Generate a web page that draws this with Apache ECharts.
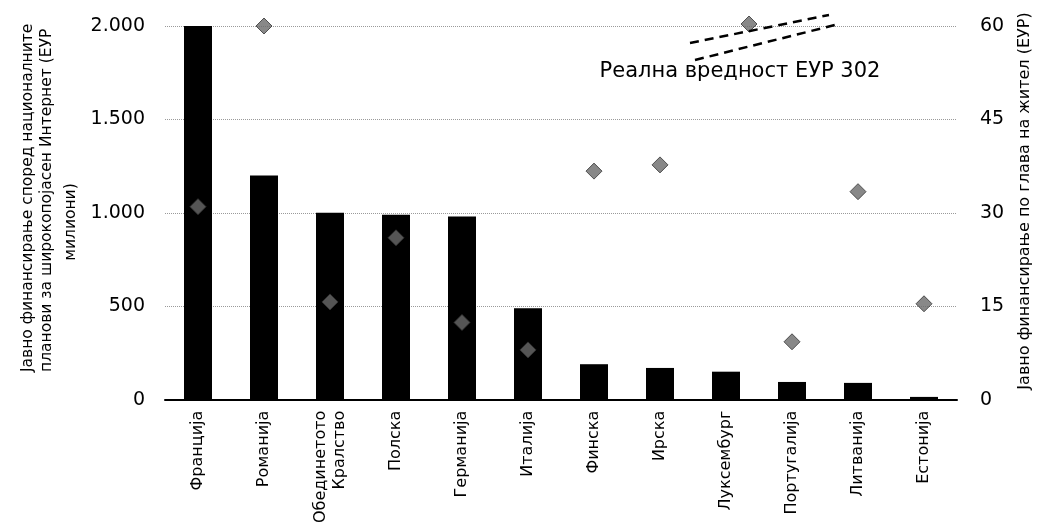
<!DOCTYPE html>
<html>
<head>
<meta charset="utf-8">
<script src="https://cdn.jsdelivr.net/npm/echarts@6/dist/echarts.min.js"></script>
<style>
html,body{margin:0;padding:0;background:#fff;}
#chart{width:1042px;height:526px;}
</style>
</head>
<body>
<div id="chart"></div>
<script>
// ---- data ----
const categories = ['Франција','Романија','Обединетото\nКралство','Полска','Германија','Италија','Финска','Ирска','Луксембург','Португалија','Литванија','Естонија'];
const totalFunding = [2000,1200,1000,990,980,490,190,170,150,95,90,15];   // EUR millions (left axis)
const perCapita = [31,60,15.7,26,12.4,8,36.7,37.7,302,9.3,33.4,15.4];      // EUR per inhabitant (right axis)
const leftTicks = {min:0, max:2000, interval:500};
const rightTicks = {min:0, max:60, interval:15};
const leftNameLines = ['Јавно финансирање според националните', 'планови за широкопојасен Интернет (ЕУР', 'милиони)'];
const rightName = 'Јавно финансирање по глава на жител (ЕУР)';
const breakCategory = 'Луксембург';
const breakNote = 'Реална вредност ЕУР 302';

const FONT = "'DejaVu Sans', Verdana, sans-serif";
const chart = echarts.init(document.getElementById('chart'), null, {renderer:'canvas'});

const breakIdx = categories.indexOf(breakCategory);
const BREAK_SHIFT = [23, -2];
const scatterData = perCapita.map((v, i) => {
  const shown = Math.min(v, rightTicks.max);
  return i === breakIdx ? {value: shown, symbolOffset: BREAK_SHIFT} : shown;
});

chart.setOption({
  backgroundColor:'#ffffff',
  animation:false,
  grid:{left:165, right:85, top:26, bottom:122},
  xAxis:{
    type:'category',
    data:categories,
    axisLine:{lineStyle:{color:'#000', width:2}},
    axisTick:{show:false},
    axisLabel:{rotate:90, color:'#000', fontFamily:FONT, fontSize:16, margin:11, lineHeight:19, interval:0}
  },
  yAxis:[{
    type:'value', min:leftTicks.min, max:leftTicks.max, interval:leftTicks.interval,
    axisLine:{show:false}, axisTick:{show:false},
    axisLabel:{color:'#000', fontFamily:FONT, fontSize:19, margin:20,
      formatter:v => String(v).replace(/\B(?=(\d{3})+(?!\d))/g,'.')},
    splitLine:{lineStyle:{color:'#9a9a9a', type:'dotted', width:1}}
  },{
    type:'value', min:rightTicks.min, max:rightTicks.max, interval:rightTicks.interval,
    axisLine:{show:false}, axisTick:{show:false},
    axisLabel:{color:'#000', fontFamily:FONT, fontSize:19, margin:23},
    splitLine:{show:false}
  }],
  series:[{
    type:'bar', data:totalFunding, yAxisIndex:0, barWidth:28,
    itemStyle:{color:'#000'}
  },{
    type:'scatter', data:scatterData, yAxisIndex:1, symbol:'diamond', symbolSize:16,
    itemStyle:{color:'#6a6a6a', borderColor:'#333', borderWidth:1}, z:5
  }]
});

const p0 = chart.convertToPixel({seriesIndex:1}, [breakIdx, rightTicks.max]);
const p = [p0[0] + BREAK_SHIFT[0], p0[1] + BREAK_SHIFT[1]];
const dash = {stroke:'#000', lineWidth:2.5, lineDash:[9,6]};
const nameFont = '15.5px ' + FONT;
chart.setOption({
  graphic:[
    {type:'line', shape:{x1:p[0]-59, y1:p[1]+19, x2:p[0]+80, y2:p[1]-9}, style:dash, z:10},
    {type:'line', shape:{x1:p[0]-54, y1:p[1]+36, x2:p[0]+86, y2:p[1]+1}, style:dash, z:10},
    {type:'text', x:p[0]-9, y:p[1]+48, style:{text:breakNote, font:'21px '+FONT, fill:'#000', textAlign:'center', textVerticalAlign:'middle'}, z:10},
    {type:'text', x:28, y:372, rotation:Math.PI/2, style:{text:leftNameLines[0], font:nameFont, fill:'#000', textAlign:'left', textVerticalAlign:'middle'}},
    {type:'text', x:47, y:372, rotation:Math.PI/2, style:{text:leftNameLines[1], font:nameFont, fill:'#000', textAlign:'left', textVerticalAlign:'middle'}},
    {type:'text', x:71, y:222, rotation:Math.PI/2, style:{text:leftNameLines[2], font:nameFont, fill:'#000', textAlign:'center', textVerticalAlign:'middle'}},
    {type:'text', x:1025, y:201, rotation:Math.PI/2, style:{text:rightName, font:'16px '+FONT, fill:'#000', textAlign:'center', textVerticalAlign:'middle'}}
  ]
});
</script>
</body>
</html>
